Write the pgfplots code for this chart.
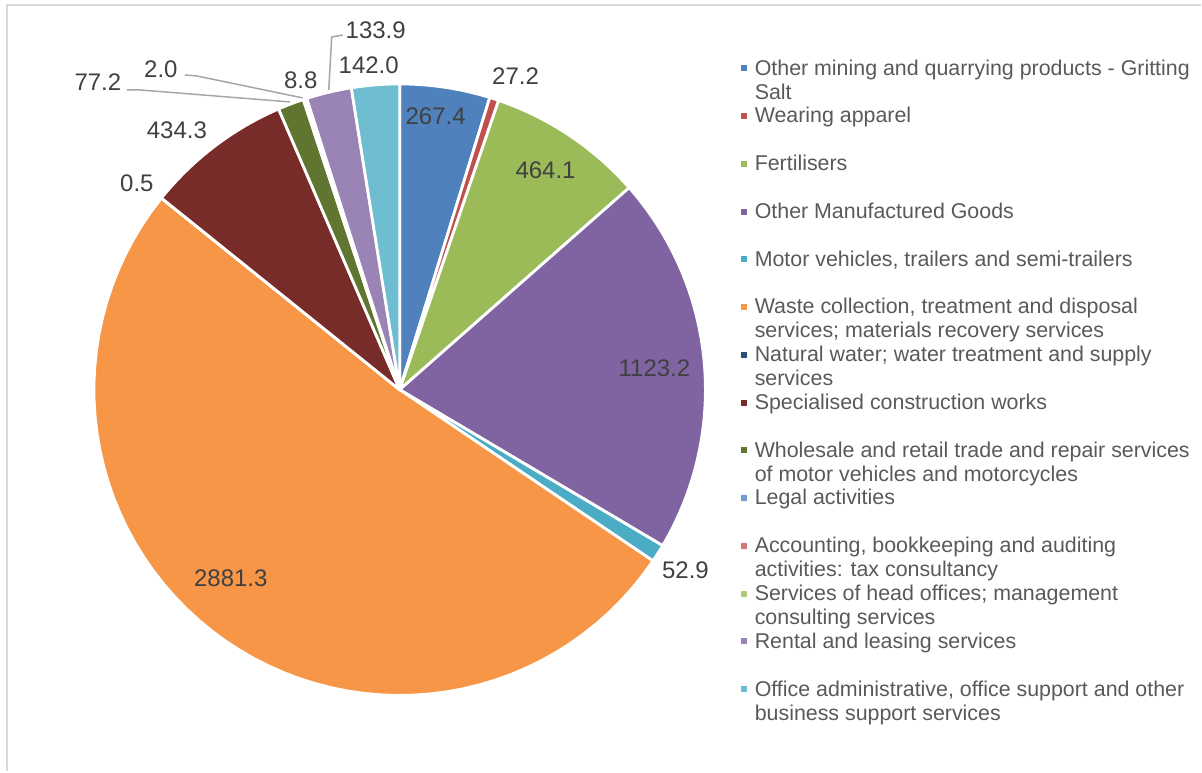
\documentclass[border=0pt]{standalone}
\usepackage{pgfplots}
\pgfplotsset{compat=1.18}
\usepackage{fontspec}
\setmainfont{Liberation Sans}

\definecolor{c1}{HTML}{4F81BD}
\definecolor{c2}{HTML}{C0504D}
\definecolor{c3}{HTML}{9BBB59}
\definecolor{c4}{HTML}{8064A2}
\definecolor{c5}{HTML}{4BACC6}
\definecolor{c6}{HTML}{F79646}
\definecolor{c7}{HTML}{2C4D75}
\definecolor{c8}{HTML}{772C2A}
\definecolor{c9}{HTML}{5F7530}
\definecolor{c10}{HTML}{729ACA}
\definecolor{c11}{HTML}{D07876}
\definecolor{c12}{HTML}{AFC97A}
\definecolor{c13}{HTML}{9A84B5}
\definecolor{c14}{HTML}{6FBDD1}
\definecolor{labtext}{HTML}{404040}
\definecolor{legtext}{HTML}{595959}
\definecolor{leader}{HTML}{A6A6A6}
\definecolor{frame}{HTML}{D9D9D9}

% total of all slices
\pgfmathsetmacro\total{267.4+27.2+464.1+1123.2+52.9+2881.3+0.5+434.3+77.2+2.0+8.8+133.9+142.0}
\gdef\cum{0}

% one slice: value, colour, legend text
\newcommand{\slice}[3]{%
  \pgfmathsetmacro\angA{\cum/\total*360}%
  \pgfmathsetmacro\angB{(\cum+#1)/\total*360}%
  \pgfmathsetmacro\newcum{\cum+#1}%
  \xdef\cum{\newcum}%
  \edef\doslice{\noexpand\addplot[fill=#2, draw=white, line width=1.4pt,
    line join=round, domain=\angA:\angB, samples=60]}%
  \doslice ({400+306*sin(x)},{390-306*cos(x)}) -- (axis cs:400,390) -- cycle;
  \addlegendentry{#3}%
}
\newcommand\lt[1]{\raisebox{0pt}[\height][0pt]{\begin{tabular}[t]{@{}l@{}}#1\end{tabular}}}

\begin{document}
\begin{tikzpicture}
\begin{axis}[
  width=601pt, height=386pt, scale only axis,
  xmin=0, xmax=1202, ymin=0, ymax=772, y dir=reverse,
  hide axis, clip=false,
  legend image code/.code={\fill[#1, draw=none] (0pt,-1.5pt) rectangle (3pt,1.5pt);},
  legend cell align=left,
  legend style={at={(axis cs:741,58)}, anchor=north west, draw=none, fill=none,
    inner sep=0pt, row sep=14pt, column sep=4pt,
    font=\fontsize{10.7}{12}\selectfont, text=legtext,
    nodes={inner sep=0pt}},
]
\path (axis cs:0,0) rectangle (axis cs:1202,772);
\draw[frame, line width=1pt] (axis cs:7,772) -- (axis cs:7,5) -- (axis cs:1202,5);

\slice{267.4}{c1}{\lt{Other mining and quarrying products - Gritting\\Salt}}
\slice{27.2}{c2}{\lt{Wearing apparel}}
\slice{464.1}{c3}{\lt{Fertilisers}}
\slice{1123.2}{c4}{\lt{Other Manufactured Goods}}
\slice{52.9}{c5}{\lt{Motor vehicles, trailers and semi-trailers}}
\slice{2881.3}{c6}{\lt{Waste collection, treatment and disposal\\services; materials recovery services}}
\slice{0.5}{c7}{\lt{Natural water; water treatment and supply\\services}}
\slice{434.3}{c8}{\lt{Specialised construction works}}
\slice{77.2}{c9}{\lt{Wholesale and retail trade and repair services\\of motor vehicles and motorcycles}}
\slice{2.0}{c10}{\lt{Legal activities}}
\slice{8.8}{c11}{\lt{Accounting, bookkeeping and auditing\\activities: tax consultancy}}
\addlegendimage{fill=c12}
\addlegendentry{\lt{Services of head offices; management\\consulting services}}
\slice{133.9}{c13}{\lt{Rental and leasing services}}
\slice{142.0}{c14}{\lt{Office administrative, office support and other\\business support services}}

% leader lines
\draw[leader, line width=0.75pt] (axis cs:127,90) -- (axis cs:140,90) -- (axis cs:290,102);
\draw[leader, line width=0.75pt] (axis cs:185,75) -- (axis cs:197,76) -- (axis cs:303,98);
\draw[leader, line width=0.75pt] (axis cs:343,35) -- (axis cs:332,37) -- (axis cs:329,90);

% data labels
\begin{scope}[every node/.style={font=\fontsize{12}{14}\selectfont, text=labtext}]
\node at (axis cs:436,116) {267.4};
\node at (axis cs:516,76) {27.2};
\node at (axis cs:546,170) {464.1};
\node at (axis cs:655,369) {1123.2};
\node at (axis cs:686,571) {52.9};
\node at (axis cs:231,579) {2881.3};
\node at (axis cs:137,183) {0.5};
\node at (axis cs:177,130) {434.3};
\node at (axis cs:98,82) {77.2};
\node at (axis cs:161,69) {2.0};
\node at (axis cs:301,80) {8.8};
\node at (axis cs:376,30) {133.9};
\node at (axis cs:369,65) {142.0};
\end{scope}
\end{axis}
\end{tikzpicture}
\end{document}
